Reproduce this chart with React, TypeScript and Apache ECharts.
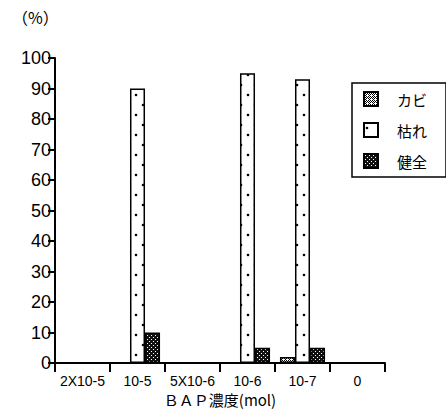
import React, { useEffect, useRef } from "react";
import * as echarts from "echarts";

const categories = ["2X10-5", "10-5", "5X10-6", "10-6", "10-7", "0"];
const seriesNames = ["カビ", "枯れ", "健全"];
const kabi = [0, 0, 0, 0, 2, 0];
const kare = [0, 90, 0, 95, 93, 0];
const kenzen = [0, 10, 0, 5, 5, 0];
const yMin = 0;
const yMax = 100;
const yStep = 10;

function makeTile(w: number, h: number, draw: (c: CanvasRenderingContext2D) => void): string {
  const cv = document.createElement("canvas");
  cv.width = w;
  cv.height = h;
  const ctx = cv.getContext("2d")!;
  draw(ctx);
  return cv.toDataURL();
}

export default function App() {
  const ref = useRef<HTMLDivElement>(null);
  useEffect(() => {
    if (!ref.current) return;
    const chart = echarts.init(ref.current, undefined, { renderer: "svg" });

    const kabiTile = makeTile(4, 4, (c) => {
      c.fillStyle = "#fff";
      c.fillRect(0, 0, 4, 4);
      c.fillStyle = "#000";
      c.fillRect(0, 0, 1, 1);
      c.fillRect(2, 0, 1, 1);
      c.fillRect(1, 1, 1, 1);
      c.fillRect(3, 1, 1, 1);
      c.fillRect(0, 2, 1, 1);
      c.fillRect(2, 2, 1, 1);
      c.fillRect(1, 3, 1, 1);
    });
    const kareTile = makeTile(14, 20, (c) => {
      c.fillStyle = "#fff";
      c.fillRect(0, 0, 14, 20);
      c.fillStyle = "#000";
      c.beginPath();
      c.arc(3, 5, 1.3, 0, Math.PI * 2);
      c.fill();
      c.beginPath();
      c.arc(10, 15, 1.3, 0, Math.PI * 2);
      c.fill();
    });
    const kenzenTile = makeTile(4, 4, (c) => {
      c.fillStyle = "#111";
      c.fillRect(0, 0, 4, 4);
      c.fillStyle = "#fff";
      c.fillRect(1, 1, 1, 1);
      c.fillRect(3, 3, 1, 1);
    });

    const fills = [kabiTile, kareTile, kenzenTile];
    const datasets = [kabi, kare, kenzen];

    chart.setOption({
      animation: false,
      backgroundColor: "#fff",
      textStyle: { fontFamily: "Liberation Sans, Arial, sans-serif" },
      graphic: [
        {
          type: "text",
          left: 12,
          top: 9,
          style: { text: "（%）", fontSize: 16, fill: "#000", fontFamily: "Noto Sans CJK JP" },
        },
      ],
      grid: { left: 55, right: 61, top: 58, bottom: 47, outerBoundsMode: "none", containLabel: false },
      legend: {
        orient: "vertical",
        left: 352,
        top: 83,
        padding: [8, 19, 8, 11],
        itemGap: 15,
        itemWidth: 14,
        itemHeight: 14,
        icon: "rect",
        borderColor: "#000",
        borderWidth: 1.5,
        borderRadius: 0,
        textStyle: {
          fontSize: 15,
          color: "#000",
          fontFamily: "Noto Sans CJK JP",
          padding: [0, 0, 0, 14],
        },
        data: seriesNames,
      },
      xAxis: {
        type: "category",
        data: categories,
        name: "ＢＡＰ濃度(mol)",
        nameLocation: "middle",
        nameGap: 29,
        nameMoveOverlap: false,
        nameTextStyle: { fontSize: 15, color: "#000", fontFamily: "Noto Sans CJK JP" },
        axisLine: { lineStyle: { color: "#000", width: 2 } },
        axisTick: { show: true, alignWithLabel: false, length: 9, lineStyle: { color: "#000", width: 2 } },
        axisLabel: { fontSize: 14, color: "#000", margin: 11, interval: 0 },
      },
      yAxis: {
        type: "value",
        min: yMin,
        max: yMax,
        interval: yStep,
        splitLine: { show: false },
        axisLine: { show: true, lineStyle: { color: "#000", width: 2 } },
        axisTick: { show: true, length: 7, lineStyle: { color: "#000", width: 2 } },
        axisLabel: { fontSize: 18, color: "#000", margin: 4 },
      },
      series: seriesNames.map((name, i) => ({
        name,
        type: "bar",
        data: datasets[i],
        barGap: "0%",
        barCategoryGap: "18%",
        itemStyle: {
          color: { image: fills[i], repeat: "repeat" },
          borderColor: "#000",
          borderWidth: 1.5,
        },
      })),
    });
    return () => chart.dispose();
  }, []);
  return <div ref={ref} style={{ width: 446, height: 410, position: "absolute", left: 0, top: 0 }} />;
}
